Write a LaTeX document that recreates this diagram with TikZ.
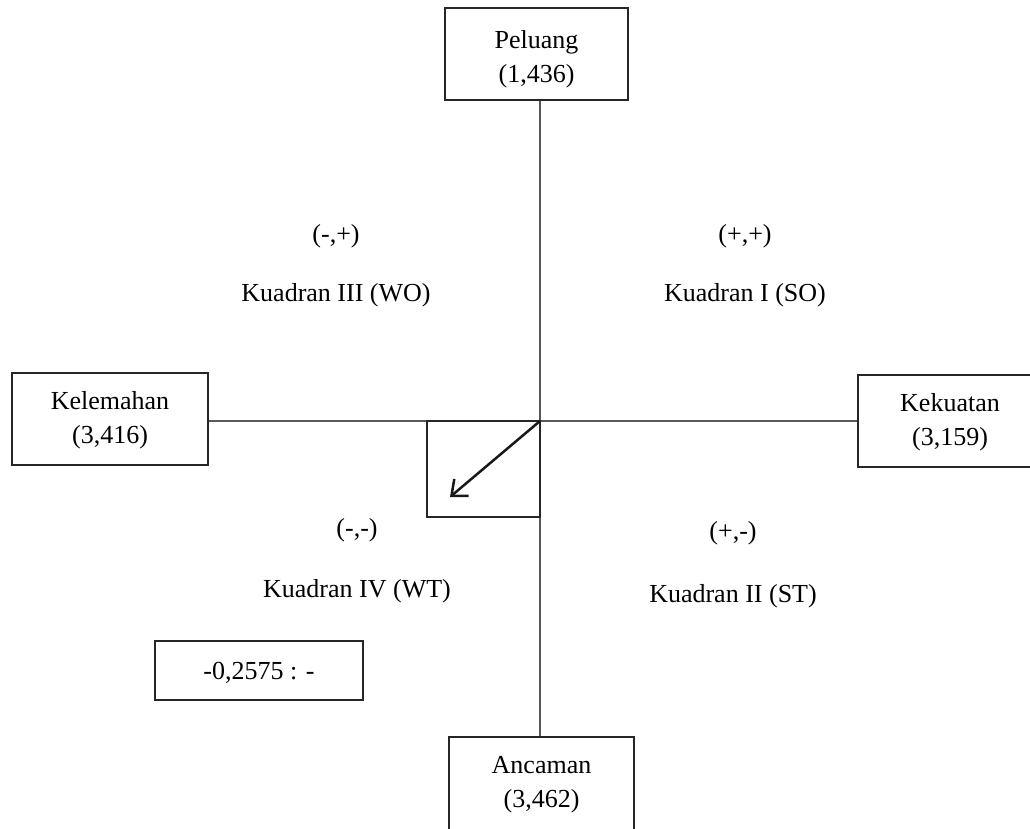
\documentclass[tikz,border=0pt]{standalone}
\usepackage{fontspec}
\setmainfont{Liberation Serif}
\usetikzlibrary{arrows.meta}
\begin{document}
\begin{tikzpicture}[x=1pt,y=-1pt,
  box/.style={draw=black!85,line width=2.2pt,fill=white,inner sep=0pt},
  btxt/.style={align=center,inner sep=0pt,font=\fontsize{26}{34}\selectfont},
  lbl/.style={font=\fontsize{26}{33}\selectfont,inner sep=0pt,text height=18pt,text depth=6pt},
  axis/.style={draw=black!65,line width=2.5pt}]
\useasboundingbox (0,0) rectangle (1030,829);
\clip (0,0) rectangle (1030,829);
\fill[white] (0,0) rectangle (1030,829);
% boxes
\node[box,minimum width=183pt,minimum height=92pt] (pel) at (536.5,54) {};
\node[btxt] (pelt) at ([yshift=-5.5pt]pel.center) {Peluang\\(1,436)};
\node[box,minimum width=185pt,minimum height=94pt] (anc) at (541.5,784) {};
\node[btxt] (anct) at ([yshift=-0.5pt]anc.center) {Ancaman\\(3,462)};
\node[box,minimum width=196pt,minimum height=92pt] (kel) at (110,419) {};
\node[btxt] (kelt) at ([yshift=-1pt]kel.center) {Kelemahan\\(3,416)};
\node[box,minimum width=184pt,minimum height=92pt] (kek) at (950,421) {};
\node[btxt] (kekt) at ([yshift=-1pt]kek.center) {Kekuatan\\(3,159)};
% axes
\coordinate (o) at (540,421);
\draw[axis] (pel.south -| o) -- (anc.north -| o);
\draw[axis] (kel.east |- o) -- (kek.west |- o);
% small square
\coordinate (sq) at (427,517);
\draw[black!85,line width=2.2pt] (o) rectangle (sq);
\coordinate (tip) at (450,497);
\draw[black!90,line width=2.5pt,-{Straight Barb[length=13pt,width=22pt]}] (o) -- (tip);
% labels
\node[lbl] (q3a) at (336,236) {(-,+)};
\node[lbl] (q3b) at (336,295) {Kuadran III (WO)};
\node[lbl] (q1a) at (745,236) {(+,+)};
\node[lbl] (q1b) at (745,295) {Kuadran I (SO)};
\node[lbl] (q4a) at (357,530) {(-,-)};
\node[lbl] (q4b) at (357,591) {Kuadran IV (WT)};
\node[lbl] (q2a) at (733,533) {(+,-)};
\node[lbl] (q2b) at (733,596) {Kuadran II (ST)};
\node[box,minimum width=208pt,minimum height=59pt] (val) at (259,670.5) {};
\node[btxt] (valt) at ([yshift=-2pt]val.center) {-0,2575 : -};
\end{tikzpicture}
\end{document}
